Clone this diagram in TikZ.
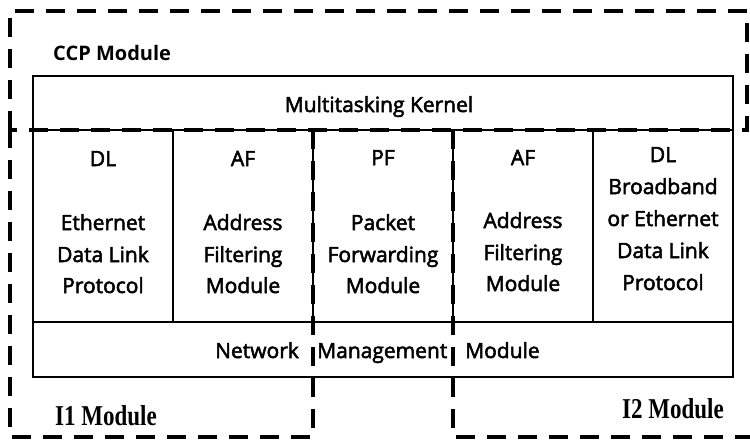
\documentclass[tikz,border=0pt]{standalone}
\usepackage{fontspec}
\setmainfont{Open Sans}
\newfontfamily\medsans{Open Sans}[UprightFeatures={FakeBold=2.5}]
\newfontfamily\modserif{Liberation Serif}
\begin{document}
\begin{tikzpicture}[x=1pt,y=-1pt,
  boxline/.style={line width=2pt, line join=miter},
  modline/.style={line width=4pt, dash pattern=on 19pt off 12pt, line cap=butt},
  txt/.style={font=\fontsize{21}{21}\selectfont\medsans, anchor=base, inner sep=0pt},
  modlbl/.style={font=\fontsize{20}{20}\selectfont\bfseries, anchor=base west, inner sep=0pt},
  serlbl/.style={font=\fontsize{23}{23}\selectfont\modserif\bfseries, anchor=base west, inner sep=0pt}]
\useasboundingbox (0,0) rectangle (750,445);
% solid boxes
\coordinate (tl) at (33,76);
\coordinate (br) at (733,377);
\draw[boxline] (tl) rectangle (br);
\draw[boxline] (33,130) -- (733,130);
\draw[boxline] (33,322) -- (733,322);
\foreach \x in {173,313,453,593} \draw[boxline] (\x,130) -- (\x,322);
% module boundaries
\draw[modline] (10,130) -- (10,11) -- (747,11) -- (747,130) -- (10,130);
\draw[modline] (313,130) -- (313,437) -- (10,437) -- (10,130);
\draw[modline] (453,130) -- (453,437) -- (752,437);
% module labels
\node[modlbl] (ccp) at (53,60) {CCP Module};
\node[serlbl] (i1) at (55,425) {\scalebox{1}[1.25]{I1 Module}};
\node[serlbl] (i2) at (622,418) {\scalebox{1}[1.25]{I2 Module}};
% kernel and NM
\node[txt] (mk) at (379,112) {Multitasking Kernel};
\node[txt,anchor=base west] (nm1) at (215,358) {Network};
\node[txt,anchor=base west] (nm2) at (317,358) {Management};
\node[txt,anchor=base west] (nm3) at (465,358) {Module};
% column 1
\node[txt] (c1a) at (103,166) {DL};
\node[txt] (c1b) at (103,230) {Ethernet};
\node[txt] (c1c) at (103,262) {Data Link};
\node[txt] (c1d) at (103,293) {Protocol};
% column 2
\node[txt] (c2a) at (243,166) {AF};
\node[txt] (c2b) at (243,230) {Address};
\node[txt] (c2c) at (243,262) {Filtering};
\node[txt] (c2d) at (243,293) {Module};
% column 3
\node[txt] (c3a) at (383,165) {PF};
\node[txt] (c3b) at (383,230) {Packet};
\node[txt] (c3c) at (383,262) {Forwarding};
\node[txt] (c3d) at (383,293) {Module};
% column 4
\node[txt] (c4a) at (523,165) {AF};
\node[txt] (c4b) at (523,228) {Address};
\node[txt] (c4c) at (523,260) {Filtering};
\node[txt] (c4d) at (523,291) {Module};
% column 5
\node[txt] (c5a) at (663,162) {DL};
\node[txt] (c5b) at (663,194) {Broadband};
\node[txt] (c5c) at (663,226) {or Ethernet};
\node[txt] (c5d) at (663,258) {Data Link};
\node[txt] (c5e) at (663,290) {Protocol};
\end{tikzpicture}
\end{document}
